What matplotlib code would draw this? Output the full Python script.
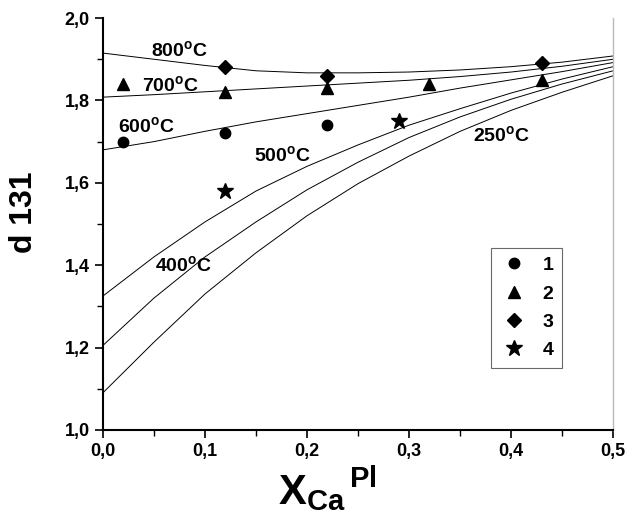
import matplotlib
matplotlib.use('Agg')
import matplotlib.pyplot as plt
from matplotlib.ticker import MultipleLocator

plt.rcParams['font.family'] = ['Liberation Sans', 'DejaVu Sans']
plt.rcParams['font.weight'] = 'bold'
plt.rcParams['mathtext.fontset'] = 'custom'
plt.rcParams['mathtext.rm'] = 'Liberation Sans:bold'
plt.rcParams['mathtext.bf'] = 'Liberation Sans:bold'
plt.rcParams['mathtext.it'] = 'Liberation Sans:bold'
plt.rcParams['mathtext.default'] = 'bf'

# isotherms
x_grid = [0.0, 0.05, 0.1, 0.15, 0.2, 0.25, 0.3, 0.35, 0.4, 0.45, 0.5]
y_800 = [1.915, 1.900, 1.885, 1.872, 1.867, 1.867, 1.869, 1.874, 1.882, 1.893, 1.908]
y_700 = [1.808, 1.814, 1.821, 1.828, 1.835, 1.842, 1.849, 1.858, 1.869, 1.883, 1.900]
y_600 = [1.680, 1.700, 1.725, 1.748, 1.768, 1.788, 1.808, 1.830, 1.850, 1.870, 1.892]
y_500 = [1.325, 1.420, 1.505, 1.580, 1.640, 1.692, 1.740, 1.780, 1.818, 1.852, 1.882]
y_400 = [1.205, 1.320, 1.420, 1.505, 1.583, 1.650, 1.710, 1.760, 1.803, 1.840, 1.872]
y_250 = [1.090, 1.213, 1.330, 1.430, 1.520, 1.598, 1.665, 1.725, 1.776, 1.820, 1.860]

curve_labels = ['800', '700', '600', '500', '400', '250']
label_x = [0.075, 0.066, 0.043, 0.176, 0.079, 0.391]
label_y = [1.922, 1.837, 1.738, 1.667, 1.400, 1.716]

# measured points
x1 = [0.02, 0.12, 0.22]
y1 = [1.70, 1.72, 1.74]
x2 = [0.02, 0.12, 0.22, 0.32, 0.43]
y2 = [1.84, 1.82, 1.83, 1.84, 1.85]
x3 = [0.12, 0.22, 0.43]
y3 = [1.88, 1.86, 1.89]
x4 = [0.12, 0.29]
y4 = [1.58, 1.75]

fig = plt.figure(figsize=(6.27, 5.16), dpi=100)
ax = fig.add_axes([0.164, 0.1667, 0.814, 0.7983])

for ys in [y_800, y_700, y_600, y_500, y_400, y_250]:
    ax.plot(x_grid, ys, color='black', lw=0.7)

for t, lx, ly in zip(curve_labels, label_x, label_y):
    ax.text(lx, ly, t + '$^{o}$C', fontsize=14, fontweight='bold',
            ha='center', va='center')

ax.plot(x1, y1, 'o', color='black', ms=7.5, ls='none', label='1')
ax.plot(x2, y2, '^', color='black', ms=8.5, ls='none', label='2')
ax.plot(x3, y3, 'D', color='black', ms=7, ls='none', label='3')
ax.plot(x4, y4, '*', color='black', ms=12, ls='none', label='4')

leg = ax.legend(loc='upper left', bbox_to_anchor=(0.761, 0.442), fancybox=False,
                frameon=True, fontsize=14, handletextpad=0.8, borderpad=0.45,
                labelspacing=0.55, handlelength=1.4, borderaxespad=0)
leg.get_frame().set_edgecolor('#444444')
leg.get_frame().set_linewidth(0.8)

ax.set_xlim(0, 0.5)
ax.set_ylim(1.0, 2.0)
ax.xaxis.set_major_locator(MultipleLocator(0.1))
ax.xaxis.set_minor_locator(MultipleLocator(0.05))
ax.yaxis.set_major_locator(MultipleLocator(0.2))
ax.yaxis.set_minor_locator(MultipleLocator(0.1))
fmt = lambda v, p: ('%.1f' % v).replace('.', ',')
ax.xaxis.set_major_formatter(plt.FuncFormatter(fmt))
ax.yaxis.set_major_formatter(plt.FuncFormatter(fmt))
ax.tick_params(which='major', direction='out', length=6, width=1.2, labelsize=13)
ax.tick_params(which='minor', direction='out', length=4, width=1.0)
for lab in ax.get_xticklabels() + ax.get_yticklabels():
    lab.set_fontweight('bold')

ax.spines['top'].set_visible(False)
ax.spines['right'].set_color('#bbbbbb')
ax.spines['right'].set_linewidth(1.0)
ax.spines['left'].set_linewidth(1.5)
ax.spines['bottom'].set_linewidth(1.5)

fig.text(0.038, 0.589, 'd 131', fontsize=23, fontweight='bold',
         rotation=90, ha='center', va='center')
fig.text(0.443, 0.022, 'X$_{Ca}$$^{\\,Pl}$', fontsize=30, fontweight='bold',
         ha='left', va='baseline')

fig.savefig('out.png', dpi=100)
